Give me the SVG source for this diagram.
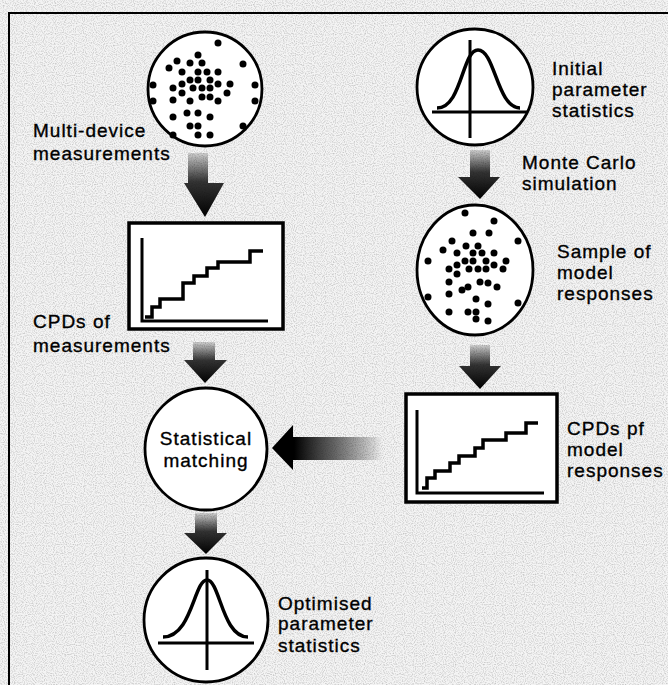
<svg xmlns="http://www.w3.org/2000/svg" width="668" height="685" viewBox="0 0 668 685">
<defs>
<style>
.node{fill:#fff;stroke:#000;stroke-width:2.8}
.box{fill:#fff;stroke:#000;stroke-width:3.5}
.plot{fill:none;stroke:#000;stroke-width:3.5}
.ax{fill:none;stroke:#000;stroke-width:3}
.dot{fill:#000}
.lbl{font-family:"Liberation Sans",Arial,sans-serif;font-size:19px;letter-spacing:1px;fill:#000;stroke:#000;stroke-width:0.35}
.mid{text-anchor:middle}
</style>
<linearGradient id="gdown" x1="0" y1="0" x2="0" y2="1">
<stop offset="0" stop-color="#000" stop-opacity="0.15"/>
<stop offset="0.45" stop-color="#111" stop-opacity="0.85"/>
<stop offset="1" stop-color="#000"/>
</linearGradient>
<linearGradient id="gleft" x1="1" y1="0" x2="0" y2="0">
<stop offset="0" stop-color="#000" stop-opacity="0"/>
<stop offset="0.45" stop-color="#222" stop-opacity="0.7"/>
<stop offset="0.8" stop-color="#000"/>
<stop offset="1" stop-color="#000"/>
</linearGradient>
<filter id="noise" x="0" y="0" width="100%" height="100%">
<feTurbulence type="fractalNoise" baseFrequency="0.9" numOctaves="1" seed="3"/>
<feColorMatrix type="matrix" values="0 0 0 0 0  0 0 0 0 0  0 0 0 0 0  0 0 0 -2.2 1.25"/>
</filter>
</defs>
<rect width="668" height="685" fill="#f4f4f4"/>
<rect width="668" height="685" filter="url(#noise)" opacity="0.22"/>
<path d="M9,685 V13 H668" fill="none" stroke="#000" stroke-width="2"/>

<g id="connectors">
<path d="M188,153 H208 V183 H224 L205,217 L184,183 H188 Z" fill="url(#gdown)"/>
<path d="M193,342 H215 V360 H227 L205,383 L184,360 H193 Z" fill="url(#gdown)"/>
<path d="M195,513 H217 V533 H227 L206,554 L184,533 H195 Z" fill="url(#gdown)"/>
<path d="M470,150 H490 V177 H500 L480,199 L458,177 H470 Z" fill="url(#gdown)"/>
<path d="M470,345 H490 V366 H501 L480,389 L459,366 H470 Z" fill="url(#gdown)"/>
<path d="M383,437 H293 V425 L272,448 L293,470 V460 H383 Z" fill="url(#gleft)"/>
</g>

<g id="measurements">
<circle class="node" cx="205" cy="89" r="57"/>
<g class="dot">
<circle cx="218" cy="43" r="3.5"/><circle cx="198" cy="55" r="3.5"/><circle cx="177" cy="61" r="3.5"/><circle cx="190" cy="63" r="3.5"/><circle cx="202" cy="63" r="3.5"/><circle cx="243" cy="64" r="3.5"/><circle cx="169" cy="68" r="3.5"/><circle cx="182" cy="72" r="3.5"/><circle cx="198" cy="72" r="3.5"/><circle cx="207" cy="72" r="3.5"/><circle cx="218" cy="72" r="3.5"/><circle cx="190" cy="80" r="3.5"/><circle cx="198" cy="80" r="3.5"/><circle cx="210" cy="80" r="3.5"/><circle cx="182" cy="84" r="3.5"/><circle cx="218" cy="84" r="3.5"/><circle cx="230" cy="84" r="3.5"/><circle cx="153" cy="85" r="3.5"/><circle cx="255" cy="85" r="3.5"/><circle cx="173" cy="88" r="3.5"/><circle cx="193" cy="88" r="3.5"/><circle cx="202" cy="88" r="3.5"/><circle cx="210" cy="88" r="3.5"/><circle cx="182" cy="93" r="3.5"/><circle cx="227" cy="93" r="3.5"/><circle cx="202" cy="97" r="3.5"/><circle cx="210" cy="97" r="3.5"/><circle cx="173" cy="100" r="3.5"/><circle cx="190" cy="101" r="3.5"/><circle cx="218" cy="101" r="3.5"/><circle cx="153" cy="101" r="3.5"/><circle cx="255" cy="101" r="3.5"/><circle cx="187" cy="113" r="3.5"/><circle cx="198" cy="113" r="3.5"/><circle cx="173" cy="117" r="3.5"/><circle cx="210" cy="117" r="3.5"/><circle cx="190" cy="126" r="3.5"/><circle cx="198" cy="126" r="3.5"/><circle cx="243" cy="126" r="3.5"/><circle cx="173" cy="135" r="3.5"/><circle cx="198" cy="135" r="3.5"/><circle cx="210" cy="135" r="3.5"/>
</g>
<text class="lbl" x="33" y="137">Multi-device</text>
<text class="lbl" x="33" y="160">measurements</text>
</g>

<g id="cpd-measurements">
<rect class="box" x="129" y="223" width="154" height="106"/>
<path class="ax" d="M142,238 V321 H268"/>
<path class="plot" d="M145,317 H152 V307 H160 V299 H183 V283 H194 V276 H207 V268 H218 V262 H250 V251 H263"/>
<text class="lbl" x="33" y="328">CPDs of</text>
<text class="lbl" x="33" y="352">measurements</text>
</g>

<g id="initial-stats">
<circle class="node" cx="475" cy="87" r="58"/>
<path class="ax" d="M470,40 V138 M432,112 H527"/>
<path class="plot" d="M437,108 C462,108 462,50 478,50 C495,50 497,108 520,108"/>
<text class="lbl" x="552" y="75">Initial</text>
<text class="lbl" x="552" y="96">parameter</text>
<text class="lbl" x="552" y="117">statistics</text>
</g>

<text class="lbl" x="522" y="169">Monte Carlo</text>
<text class="lbl" x="522" y="190">simulation</text>

<g id="model-samples">
<ellipse class="node" cx="475" cy="270" rx="58" ry="65"/>
<g class="dot">
<circle cx="465" cy="213" r="3.5"/><circle cx="494" cy="221" r="3.5"/><circle cx="473" cy="233" r="3.5"/><circle cx="489" cy="233" r="3.5"/><circle cx="452" cy="241" r="3.5"/><circle cx="518" cy="241" r="3.5"/><circle cx="466" cy="246" r="3.5"/><circle cx="478" cy="246" r="3.5"/><circle cx="443" cy="250" r="3.5"/><circle cx="473" cy="253" r="3.5"/><circle cx="482" cy="253" r="3.5"/><circle cx="494" cy="253" r="3.5"/><circle cx="457" cy="253" r="3.5"/><circle cx="428" cy="261" r="3.5"/><circle cx="465" cy="261" r="3.5"/><circle cx="473" cy="261" r="3.5"/><circle cx="486" cy="261" r="3.5"/><circle cx="506" cy="261" r="3.5"/><circle cx="457" cy="265" r="3.5"/><circle cx="494" cy="265" r="3.5"/><circle cx="449" cy="269" r="3.5"/><circle cx="469" cy="269" r="3.5"/><circle cx="478" cy="269" r="3.5"/><circle cx="486" cy="269" r="3.5"/><circle cx="503" cy="269" r="3.5"/><circle cx="457" cy="274" r="3.5"/><circle cx="449" cy="282" r="3.5"/><circle cx="480" cy="282" r="3.5"/><circle cx="488" cy="283" r="3.5"/><circle cx="468" cy="287" r="3.5"/><circle cx="462" cy="290" r="3.5"/><circle cx="497" cy="287" r="3.5"/><circle cx="449" cy="294" r="3.5"/><circle cx="428" cy="297" r="3.5"/><circle cx="476" cy="299" r="3.5"/><circle cx="488" cy="304" r="3.5"/><circle cx="518" cy="303" r="3.5"/><circle cx="449" cy="312" r="3.5"/><circle cx="468" cy="312" r="3.5"/><circle cx="476" cy="312" r="3.5"/><circle cx="476" cy="319" r="3.5"/><circle cx="488" cy="321" r="3.5"/>
</g>
<text class="lbl" x="557" y="258">Sample of</text>
<text class="lbl" x="557" y="279">model</text>
<text class="lbl" x="557" y="300">responses</text>
</g>

<g id="cpd-model">
<rect class="box" x="406" y="394" width="151" height="108"/>
<path class="ax" d="M417,410 V493 H544"/>
<path class="plot" d="M422,488 H427 V478 H435 V471 H450 V463 H459 V456 H475 V448 H483 V440 H506 V433 H526 V423 H538"/>
<text class="lbl" x="567" y="435">CPDs pf</text>
<text class="lbl" x="567" y="456">model</text>
<text class="lbl" x="567" y="477">responses</text>
</g>

<g id="matching">
<circle class="node" cx="206" cy="449" r="61"/>
<text class="lbl mid" x="206" y="445">Statistical</text>
<text class="lbl mid" x="206" y="467">matching</text>
</g>

<g id="optimised-stats">
<circle class="node" cx="206" cy="620" r="62"/>
<path class="ax" d="M207,570 V670 M158,643 H254"/>
<path class="plot" d="M163,637 C192,637 194,580 207,580 C220,580 222,637 248,637"/>
<text class="lbl" x="278" y="610">Optimised</text>
<text class="lbl" x="278" y="630">parameter</text>
<text class="lbl" x="278" y="652">statistics</text>
</g>
</svg>
